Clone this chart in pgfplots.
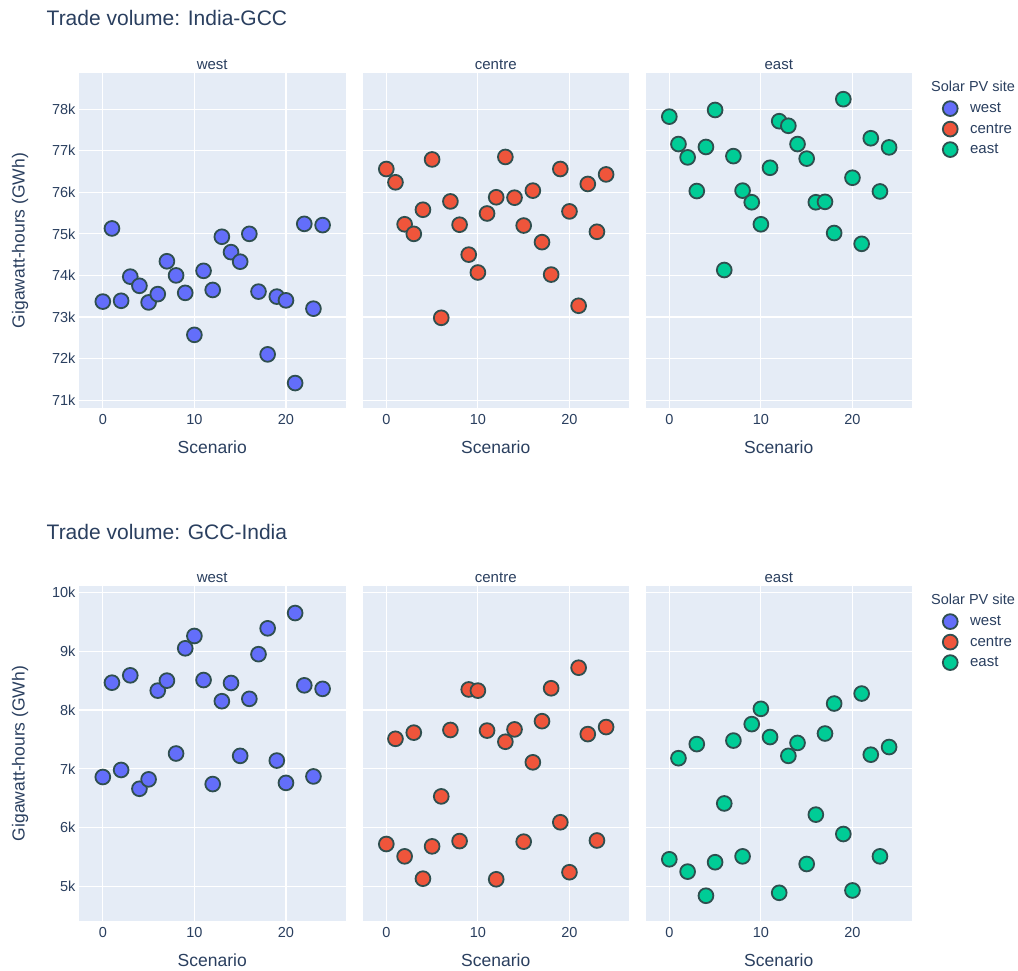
\documentclass[border=0pt]{standalone}
\usepackage{fontspec}
\setmainfont{Liberation Sans}
\usepackage{pgfplots}
\pgfplotsset{compat=1.18}
\usepackage{pgfplotstable}

\definecolor{bgc}{HTML}{E5ECF6}
\definecolor{txt}{HTML}{2A3F5F}
\definecolor{cw}{HTML}{636EFA}
\definecolor{cc}{HTML}{EF553B}
\definecolor{ce}{HTML}{00CC96}
\definecolor{edge}{HTML}{2F4F4F}

% Trade volume India-GCC (GWh)
\pgfplotstableread{
x w c e
0 73370 76560 77820
1 75130 76240 77160
2 73390 75230 76840
3 73970 75000 76030
4 73750 75580 77090
5 73350 76790 77980
6 73550 72980 74130
7 74340 75780 76870
8 74000 75220 76040
9 73580 74500 75760
10 72570 74070 75230
11 74110 75490 76590
12 73650 75880 77710
13 74930 76850 77600
14 74560 75870 77160
15 74330 75200 76810
16 75000 76040 75760
17 73610 74800 75770
18 72100 74020 75020
19 73490 76560 78240
20 73400 75540 76350
21 71410 73270 74760
22 75240 76200 77300
23 73200 75050 76020
24 75210 76430 77080
}\topdata

% Trade volume GCC-India (GWh)
\pgfplotstableread{
x w c e
0 6860 5720 5460
1 8465 7510 7180
2 6980 5510 5250
3 8590 7615 7420
4 6660 5130 4840
5 6820 5680 5410
6 8330 6530 6410
7 8500 7660 7480
8 7260 5770 5510
9 9050 8350 7760
10 9260 8330 8020
11 8510 7650 7540
12 6740 5120 4890
13 8150 7460 7220
14 8460 7670 7440
15 7220 5760 5380
16 8190 7110 6220
17 8950 7810 7600
18 9390 8370 8110
19 7140 6090 5890
20 6760 5240 4930
21 9650 8720 8280
22 8420 7590 7240
23 6870 5780 5510
24 8360 7710 7370
}\botdata

\pgfplotsset{
  mk/.style={only marks, mark=*, mark size=7.4pt,
    mark options={fill=#1, draw=edge, line width=1.8pt}},
  panel/.style={
    scale only axis, width=266.5pt, height=335pt,
    xmin=-2.6, xmax=26.5,
    axis background/.style={fill=bgc},
    axis line style={draw=none},
    tick style={draw=none},
    grid=major, major grid style={white, line width=1.1pt},
    xtick={0,10,20},
    scaled y ticks=false, scaled x ticks=false,
    /pgf/number format/assume math mode=true,
    tick label style={font=\fontsize{14.5}{16}\selectfont, text=txt},
    xticklabel style={yshift=-3pt},
    title style={at={(axis description cs:0.5,1)}, anchor=center, yshift=2.5pt,
      font=\fontsize{15}{17}\selectfont, text=txt},
    xlabel={Scenario},
    xlabel style={at={(axis description cs:0.5,0)}, anchor=center, yshift=-39pt,
      font=\fontsize{17.5}{20}\selectfont, text=txt},
    clip=false,
  },
  yl/.style={ylabel={Gigawatt-hours (GWh)},
    ylabel style={at={(axis description cs:-0.2214,0.5)}, anchor=center,
      font=\fontsize{17.5}{20}\selectfont, text=txt}},
  noy/.style={yticklabels={}},
  lg/.style={legend style={at={(axis description cs:1.115,0.917)}, anchor=north west,
      draw=none, fill=none, font=\fontsize{15}{17}\selectfont, text=txt,
      row sep=5.3pt, inner sep=0pt,
      /tikz/every odd column/.append style={column sep=10.5pt}},
    legend cell align=left},
  toprow/.style={ymin=70810, ymax=78870,
    ytick={71000,72000,73000,74000,75000,76000,77000,78000}},
  botrow/.style={ymin=4410, ymax=10110,
    ytick={5000,6000,7000,8000,9000,10000}},
}

\begin{document}
\begin{tikzpicture}
\useasboundingbox (0pt,0pt) rectangle (1018pt,970pt);
\fill[white] (0pt,0pt) rectangle (1018pt,970pt);

\node[anchor=west, inner sep=0pt, text=txt, font=\fontsize{21}{24}\selectfont] at (46.5pt,952pt) {Trade volume: India-GCC};
\node[anchor=west, inner sep=0pt, text=txt, font=\fontsize{21}{24}\selectfont] at (46.5pt,438pt) {Trade volume: GCC-India};

% ---------- top row ----------
\begin{axis}[panel, toprow, yl, at={(79pt,562pt)}, anchor=south west, title={west},
  yticklabels={71k,72k,73k,74k,75k,76k,77k,78k}]
\addplot[mk=cw] table[x=x,y=w]{\topdata};
\end{axis}
\begin{axis}[panel, toprow, noy, at={(362.5pt,562pt)}, anchor=south west, title={centre}]
\addplot[mk=cc] table[x=x,y=c]{\topdata};
\end{axis}
\begin{axis}[panel, toprow, noy, lg, at={(645.5pt,562pt)}, anchor=south west, title={east}]
\addlegendimage{mk=cw}
\addlegendentry{west}
\addlegendimage{mk=cc}
\addlegendentry{centre}
\addplot[mk=ce] table[x=x,y=e]{\topdata};
\addlegendentry{east}
\end{axis}
\node[anchor=west, inner sep=0pt, text=txt, font=\fontsize{14.5}{17}\selectfont] at (931pt,884pt) {Solar PV site};

% ---------- bottom row ----------
\begin{axis}[panel, botrow, yl, at={(79pt,49pt)}, anchor=south west, title={west},
  yticklabels={5k,6k,7k,8k,9k,10k}]
\addplot[mk=cw] table[x=x,y=w]{\botdata};
\end{axis}
\begin{axis}[panel, botrow, noy, at={(362.5pt,49pt)}, anchor=south west, title={centre}]
\addplot[mk=cc] table[x=x,y=c]{\botdata};
\end{axis}
\begin{axis}[panel, botrow, noy, lg, at={(645.5pt,49pt)}, anchor=south west, title={east}]
\addlegendimage{mk=cw}
\addlegendentry{west}
\addlegendimage{mk=cc}
\addlegendentry{centre}
\addplot[mk=ce] table[x=x,y=e]{\botdata};
\addlegendentry{east}
\end{axis}
\node[anchor=west, inner sep=0pt, text=txt, font=\fontsize{14.5}{17}\selectfont] at (931pt,371pt) {Solar PV site};
\end{tikzpicture}
\end{document}
